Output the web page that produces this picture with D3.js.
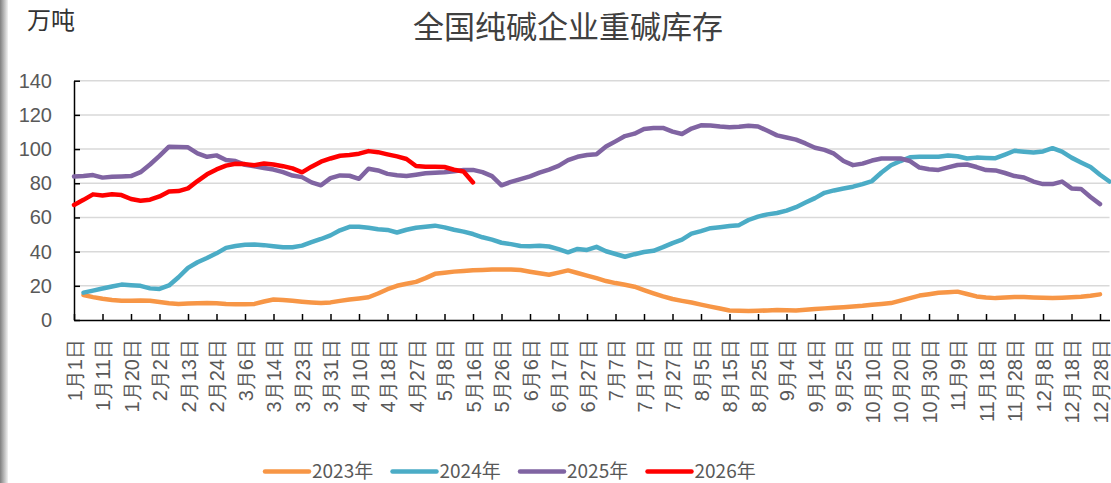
<!DOCTYPE html>
<html>
<head>
<meta charset="utf-8">
<script src="https://cdn.jsdelivr.net/npm/d3@7"></script>
<style>
  body { margin: 0; background: #fff; }
  svg { display: block; font-family: "Noto Sans CJK SC", "Noto Sans", sans-serif; }
  .grid line { stroke: #d9d9d9; stroke-width: 1.5; }
  .axis path, .axis line { stroke: #000; stroke-width: 1.5; }
  .axis text { fill: #595959; font-size: 20px; }
</style>
</head>
<body>
<div id="chart"></div>
<script>
// x tick labels, one every 3 categories (data is twice weekly)
const tickLabels = ['1月1日', '1月11日', '1月20日', '2月2日', '2月13日', '2月24日', '3月6日', '3月14日',
  '3月23日', '3月31日', '4月10日', '4月18日', '4月27日', '5月8日', '5月16日', '5月26日', '6月6日',
  '6月17日', '6月27日', '7月7日', '7月17日', '7月27日', '8月5日', '8月15日', '8月25日', '9月4日',
  '9月14日', '9月25日', '10月10日', '10月20日', '10月30日', '11月9日', '11月18日', '11月28日',
  '12月8日', '12月18日', '12月28日'];
const years = ['2023年', '2024年', '2025年', '2026年'];

const v2023 = [null, 14.6, 13.4, 12.4, 11.7, 11.2, 11.3, 11.4, 11.2, 10.5, 9.8, 9.4, 9.6, 9.8, 10, 9.8,
  9.3, 9.2, 9.2, 9.4, 10.8, 12, 11.7, 11.2, 10.7, 10.3, 9.9, 10.3, 11.2, 12, 12.6, 13.3, 15.5, 18, 20,
  21.2, 22.3, 24.5, 27, 27.6, 28.3, 28.7, 29.1, 29.3, 29.5, 29.6, 29.6, 29.2, 28.2, 27.3, 26.5, 27.7,
  29, 27.5, 26, 24.5, 22.8, 21.6, 20.6, 19.5, 17.5, 15.6, 13.8, 12.3, 11.2, 10.2, 9, 7.8, 6.7, 5.6,
  5.4, 5.3, 5.4, 5.6, 5.8, 5.7, 5.6, 6, 6.5, 6.8, 7.1, 7.5, 7.9, 8.3, 8.9, 9.4, 9.9, 11.3, 12.8, 14.3,
  15.1, 15.9, 16.3, 16.6, 15.2, 13.8, 13.2, 12.8, 13.1, 13.5, 13.4, 13.2, 13, 12.8, 13, 13.3, 13.6,
  14.2, 15, null];
const v2024 = [null, 16, 17.2, 18.4, 19.6, 20.7, 20.3, 20, 18.5, 18.2, 20.2, 25, 30.5, 33.8, 36.3, 39,
  42.2, 43.3, 44, 44.1, 43.8, 43.2, 42.5, 42.6, 43.5, 45.5, 47.4, 49.5, 52.5, 54.5, 54.6, 54, 53.1,
  52.7, 51.2, 52.8, 54, 54.6, 55.2, 54.2, 52.8, 51.7, 50.3, 48.4, 47, 45.2, 44.4, 43.3, 43.2, 43.4, 43,
  41.5, 39.6, 41.6, 41, 42.8, 40.2, 38.6, 37, 38.5, 39.8, 40.5, 42.6, 45, 47, 50.5, 52, 53.7, 54.3,
  55, 55.5, 58.5, 60.5, 61.8, 62.6, 64, 66, 68.7, 71.3, 74.4, 75.8, 76.9, 78, 79.5, 81.3, 86.3, 90.5,
  93, 95.2, 95.5, 95.5, 95.5, 96.2, 95.8, 94.5, 95, 94.8, 94.7, 96.8, 99, 98.5, 98, 98.6, 100.5, 98.5,
  95, 92.2, 89.5, 85, 81];
const v2025 = [84, 84.2, 84.8, 83.3, 83.8, 84, 84.2, 86.5, 91, 96, 101.4, 101.2, 101, 97.5, 95.5, 96.3,
  93.6, 93, 90.8, 89.9, 88.9, 88, 86.5, 84.5, 83.6, 80.5, 78.8, 83, 84.6, 84.4, 82.6, 88.5, 87.5, 85.5,
  84.7, 84.2, 85, 85.8, 86.2, 86.4, 87, 87.7, 87.8, 86.5, 84.2, 78.8, 80.8, 82.4, 84, 86.2, 88, 90.2,
  93.5, 95.5, 96.5, 97, 101.5, 104.5, 107.6, 109, 111.8, 112.3, 112.4, 110.2, 108.8, 112, 113.9, 113.8,
  113.2, 112.8, 113, 113.6, 113.2, 110.7, 108, 106.8, 105.5, 103.3, 100.8, 99.5, 97.3, 93, 90.6, 91.5,
  93.3, 94.5, 94.5, 94.5, 93, 89.2, 88.2, 87.8, 89.3, 90.7, 91, 89.5, 87.7, 87.5, 86, 84.2, 83.4, 81,
  79.5, 79.5, 81, 77, 76.7, 72, 67.8, null];
const v2026 = [67.3, 70.3, 73.5, 72.9, 73.6, 73.1, 70.8, 69.8, 70.4, 72.3, 75.2, 75.4, 77, 81.3, 85.2,
  88.1, 90.3, 91.4, 91.2, 90.6, 91.6, 91, 90, 88.7, 86.4, 89.7, 92.6, 94.5, 96.1, 96.5, 97.3, 98.8,
  98.2, 96.9, 95.7, 94.2, 90.1, 89.7, 89.7, 89.5, 87.9, 86.9, 80.5];
const yTicks = [0, 20, 40, 60, 80, 100, 120, 140];

const colors = ['#F79646', '#4BACC6', '#8064A2', '#FF0000'];
const series = [v2023, v2024, v2025, v2026];

const W = 1111, H = 483;
const margin = { top: 80.7, left: 74, right: 1.5, bottom: 163 };
const nCat = v2024.length;

const svg = d3.select('#chart').append('svg')
  .attr('width', W)
  .attr('height', H);

// grey shadow on left border
const grad = svg.append('defs').append('linearGradient')
  .attr('id', 'edge');
grad.append('stop').attr('offset', '0%').attr('stop-color', '#7f7f7f');
grad.append('stop').attr('offset', '100%').attr('stop-color', '#f2f2f2');
svg.append('rect')
  .attr('x', 0).attr('y', 0)
  .attr('width', 8).attr('height', H)
  .attr('fill', 'url(#edge)');

const x = d3.scalePoint()
  .domain(d3.range(nCat))
  .range([margin.left, W - margin.right]);

const y = d3.scaleLinear()
  .domain([0, 140])
  .range([H - margin.bottom, margin.top]);

svg.append('g')
  .attr('class', 'grid')
  .selectAll('line')
  .data(yTicks.filter(d => d > 0))
  .join('line')
  .attr('x1', margin.left)
  .attr('x2', W - margin.right)
  .attr('y1', d => y(d))
  .attr('y2', d => y(d));

const axisLeft = d3.axisLeft(y)
  .tickValues(yTicks)
  .tickSizeInner(-6)
  .tickSizeOuter(0)
  .tickPadding(22);

svg.append('g')
  .attr('class', 'axis')
  .attr('transform', `translate(${margin.left}, 0)`)
  .call(axisLeft);

const tickIdx = d3.range(0, nCat, 3).slice(0, tickLabels.length);
const axisBottom = d3.axisBottom(x)
  .tickValues(tickIdx)
  .tickFormat(i => tickLabels[i / 3])
  .tickSizeInner(-6)
  .tickSizeOuter(0);

svg.append('g')
  .attr('class', 'axis')
  .attr('transform', `translate(0, ${y(0)})`)
  .call(axisBottom)
  .selectAll('text')
  .attr('transform', 'rotate(-90)')
  .attr('x', -19)
  .attr('y', 0)
  .attr('dy', '0.36em')
  .attr('text-anchor', 'end');

const line = d3.line()
  .defined(d => d != null)
  .x((d, i) => x(i))
  .y(d => y(d));

svg.append('g')
  .selectAll('path')
  .data(series)
  .join('path')
  .attr('d', d => line(d))
  .attr('fill', 'none')
  .attr('stroke', (d, i) => colors[i])
  .attr('stroke-width', 4.5)
  .attr('stroke-linejoin', 'round')
  .attr('stroke-linecap', 'round');

svg.append('text')
  .attr('x', 568)
  .attr('y', 38)
  .attr('text-anchor', 'middle')
  .attr('fill', '#404040')
  .style('font-size', '31px')
  .text('全国纯碱企业重碱库存');

svg.append('text')
  .attr('x', 27)
  .attr('y', 29)
  .attr('fill', '#333')
  .style('font-size', '24px')
  .text('万吨');

const legend = svg.append('g')
  .selectAll('g')
  .data(years)
  .join('g')
  .attr('transform', (d, i) => `translate(${265 + i * 127.5}, 471.5)`);

legend.append('line')
  .attr('x1', 0).attr('x2', 44)
  .attr('stroke', (d, i) => colors[i])
  .attr('stroke-width', 4.5)
  .attr('stroke-linecap', 'round');

legend.append('text')
  .attr('x', 47)
  .attr('dy', '0.36em')
  .attr('fill', '#595959')
  .style('font-size', '19px')
  .text(d => d);
</script>
</body>
</html>
